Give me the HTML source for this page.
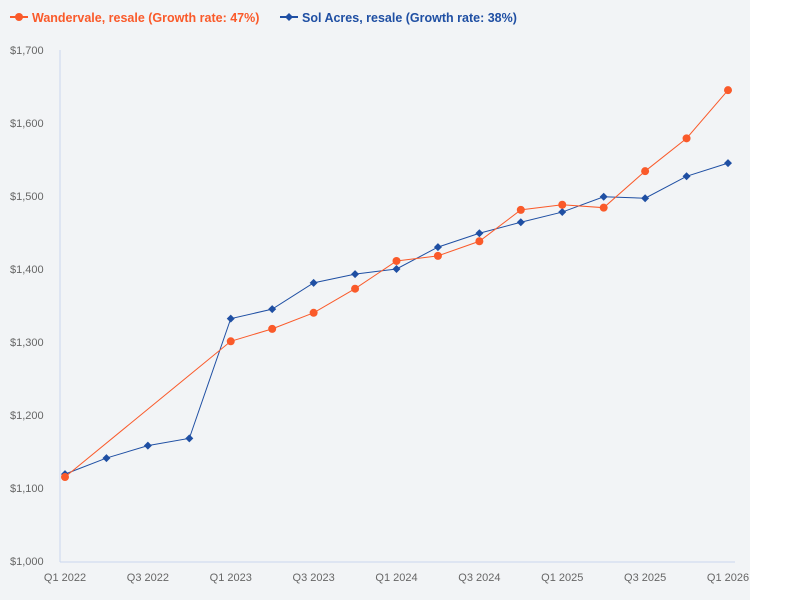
<!DOCTYPE html>
<html><head><meta charset="utf-8"><style>
body{margin:0;background:#fff;font-family:"Liberation Sans",sans-serif}
#bg{position:absolute;left:0;top:0;width:750px;height:600px;background:#f2f4f6}
svg{position:absolute;left:0;top:0}
</style></head><body>
<div id="bg"></div>
<svg id="c" width="800" height="600"></svg>
<script>
const categories=["Q1 2022","Q2 2022","Q3 2022","Q4 2022","Q1 2023","Q2 2023","Q3 2023","Q4 2023","Q1 2024","Q2 2024","Q3 2024","Q4 2024","Q1 2025","Q2 2025","Q3 2025","Q4 2025","Q1 2026"];
const wandervale=[1115,null,null,null,1301,1318,1340,1373,1411,1418,1438,1481,1488,1484,1534,1579,1645];
const solAcres=[1119,1141,1158,1168,1332,1345,1381,1393,1400,1430,1449,1464,1478,1499,1497,1527,1545];
const yTicks=[1000,1100,1200,1300,1400,1500,1600,1700];
const yTickLabels=["$1,000","$1,100","$1,200","$1,300","$1,400","$1,500","$1,600","$1,700"];
const xTickIdx=[0,2,4,6,8,10,12,14,16];
const NS="http://www.w3.org/2000/svg",svg=document.getElementById('c');
const x=i=>65+i*(728-65)/16, y=v=>561-(v-1000)*(511/700);
function el(t,a,p){const e=document.createElementNS(NS,t);for(const k in a)e.setAttribute(k,a[k]);(p||svg).appendChild(e);return e;}
let ax=el('line',{x1:60,y1:50,x2:60,y2:562,stroke:'#c9d6ee'});


ax=el('line',{x1:60,y1:562,x2:735,y2:562,stroke:'#c9d6ee'});


yTicks.forEach((v,i)=>{const t=el('text',{x:10,y:y(v)+4,'font-size':11,fill:'#666'});t.textContent=yTickLabels[i];

});
xTickIdx.forEach(i=>{const t=el('text',{x:x(i),y:581,'font-size':11,fill:'#666','text-anchor':'middle'});t.textContent=categories[i];

});
function series(data,color,name,marker){
 const g=el('g',{});
 
 
 const pts=[];data.forEach((v,i)=>{if(v!=null)pts.push(x(i)+','+y(v));});
 el('polyline',{points:pts.join(' '),fill:'none',stroke:color,'stroke-width':1},g);
 data.forEach((v,i)=>{if(v==null)return;let m;
  if(marker==='circle')m=el('circle',{cx:x(i),cy:y(v),r:4,fill:color},g);
  else{const cx=x(i),cy=y(v);m=el('polygon',{points:`${cx},${cy-4} ${cx+4},${cy} ${cx},${cy+4} ${cx-4},${cy}`,fill:color},g);}
  
  });
}
series(solAcres,'#1f4fa3','sol-acres','diamond');
series(wandervale,'#fa5a2a','wandervale','circle');
function legend(lx,color,marker,text,name){
 const g=el('g',{});
 
 
 el('line',{x1:lx,y1:17,x2:lx+18,y2:17,stroke:color,'stroke-width':2},g);
 if(marker==='circle')el('circle',{cx:lx+9,cy:17,r:4,fill:color},g);
 else el('polygon',{points:`${lx+9},13 ${lx+13},17 ${lx+9},21 ${lx+5},17`,fill:color},g);
 const t=el('text',{x:lx+22,y:22,'font-size':12.5,'font-weight':'bold',fill:color},g);t.textContent=text;
}
legend(10,'#fa5a2a','circle','Wandervale, resale (Growth rate: 47%)','legend-entry-wandervale');
legend(280,'#1f4fa3','diamond','Sol Acres, resale (Growth rate: 38%)','legend-entry-sol-acres');
</script>
</body></html>
